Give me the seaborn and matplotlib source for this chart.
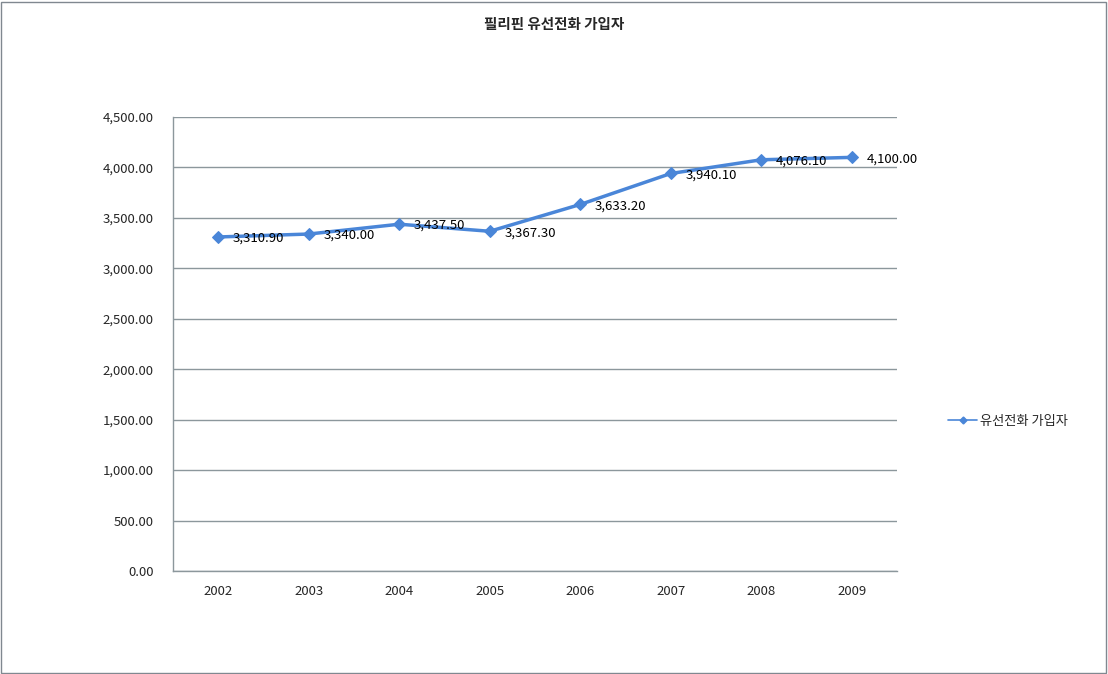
import matplotlib
matplotlib.use("Agg")
import matplotlib.pyplot as plt
import seaborn as sns
import pandas as pd
from matplotlib.patches import Rectangle

years = ["2002", "2003", "2004", "2005", "2006", "2007", "2008", "2009"]
subscribers = [3310.90, 3340.00, 3437.50, 3367.30, 3633.20, 3940.10, 4076.10, 4100.00]
yticks = [0, 500, 1000, 1500, 2000, 2500, 3000, 3500, 4000, 4500]
series_name = "유선전화 가입자"
title = "필리핀 유선전화 가입자"

sns.set_style("white")
plt.rcParams["font.family"] = ["Noto Sans CJK KR", "DejaVu Sans"]

df = pd.DataFrame({"year": years, "value": subscribers})

fig = plt.figure(figsize=(11.08, 6.74), dpi=100)
fig.patches.append(Rectangle((0.001, 0.002), 0.997, 0.995, transform=fig.transFigure,
                             fill=False, edgecolor="#808890", linewidth=1))
ax = fig.add_axes([0.1561, 0.1528, 0.6535, 0.6736])

line_color = "#4A86D8"
sns.lineplot(data=df, x="year", y="value", ax=ax, color=line_color, linewidth=2.5,
             marker="D", markersize=6.5, markeredgecolor=line_color, sort=False)

for i, v in enumerate(subscribers):
    ax.annotate(f"{v:,.2f}", (i, v), xytext=(10.5, -1), textcoords="offset points",
                ha="left", va="center", fontsize=9.5, color="black")

ax.set_xlim(-0.5, len(years) - 0.5)
ax.set_ylim(0, 4500)
ax.set_yticks(yticks)
ax.set_yticklabels([f"{t:,.2f}" for t in yticks], fontsize=9.5)
ax.tick_params(axis="x", labelsize=9.5, length=0, pad=10)
ax.tick_params(axis="y", length=0, pad=14)
ax.set_xlabel("")
ax.set_ylabel("")
ax.yaxis.grid(True, color="#8C979C", linewidth=1)
ax.set_axisbelow(True)
for s in ["top", "right"]:
    ax.spines[s].set_visible(False)
for s in ["left", "bottom"]:
    ax.spines[s].set_color("#8C979C")
    ax.spines[s].set_linewidth(1)

fig.text(0.5, 0.964, title, ha="center", va="center", fontsize=10.5, fontweight="bold")

handle = plt.Line2D([], [], color=line_color, linewidth=1.2, marker="D", markersize=3.5)
fig.legend([handle], [series_name], loc="center left", bbox_to_anchor=(0.845, 0.375),
           frameon=False, fontsize=9.5, handlelength=2.2, handletextpad=0.2)

fig.savefig("out.png", dpi=100)
